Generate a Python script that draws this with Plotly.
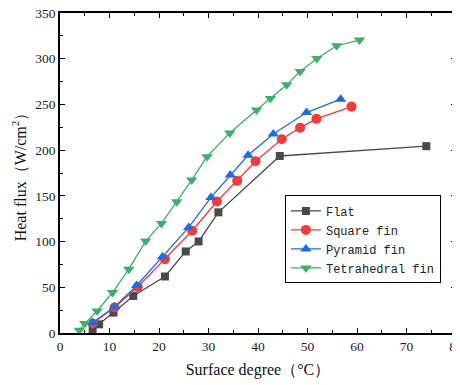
import plotly.graph_objects as go

flat_x = [6.6, 7.9, 10.8, 14.8, 21.2, 25.4, 28.0, 32.0, 44.4, 74.0]
flat_y = [4, 9.5, 22.3, 40.5, 61.8, 89.2, 100.1, 132.0, 193.6, 204.3]

square_x = [6.6, 11.0, 15.7, 21.2, 26.7, 31.7, 35.8, 39.5, 44.8, 48.5, 51.8, 58.9]
square_y = [10.3, 27.8, 50.4, 80.8, 111.8, 143.8, 166.4, 187.8, 211.9, 224.6, 234.2, 247.6]

pyramid_x = [6.6, 11.0, 15.5, 20.7, 26.0, 30.5, 34.4, 38.0, 43.1, 49.8, 56.7]
pyramid_y = [11.4, 28.5, 51.9, 83.3, 115.5, 148.3, 172.8, 194.4, 217.7, 241.1, 255.7]

tetra_x = [3.9, 5.0, 7.5, 10.6, 13.9, 17.3, 20.5, 23.6, 26.6, 29.7, 34.3, 39.7, 42.5, 45.8, 48.5, 51.9, 55.9, 60.5]
tetra_y = [3.0, 10.3, 24.1, 44.3, 69.8, 100.5, 119.9, 143.5, 167.3, 192.9, 218.8, 244.0, 256.4, 271.4, 286.0, 300.2, 314.2, 320.4]

names = ["Flat", "Square fin", "Pyramid fin", "Tetrahedral fin"]
colors = ["#4a4a4a", "#f03c3c", "#1f6be0", "#3fae6a"]
symbols = ["square", "circle", "triangle-up", "triangle-down"]
sizes = [8, 10, 10, 10]

fig = go.Figure()
for xs, ys, n, c, s, sz in zip([flat_x, square_x, pyramid_x, tetra_x],
                               [flat_y, square_y, pyramid_y, tetra_y],
                               names, colors, symbols, sizes):
    fig.add_trace(go.Scatter(x=xs, y=ys, name=n, mode="lines+markers",
                             line=dict(color=c, width=1.3),
                             marker=dict(symbol=s, size=sz, color=c)))

serif = "Liberation Serif"
axis_common = dict(
    showline=True, linecolor="black", linewidth=1.5, mirror="ticks",
    ticks="inside", ticklen=5, tickwidth=1.3, tickcolor="black",
    showgrid=False, zeroline=False, automargin=False,
    ticklabeloverflow="allow",
    tickfont=dict(family=serif, size=13.5, color="#222"),
)
fig.update_xaxes(range=[0, 80], dtick=10,
                 minor=dict(ticks="inside", ticklen=3, tickwidth=1, dtick=5, tickcolor="black"),
                 title=dict(text="Surface degree（°C）", font=dict(family=serif, size=16, color="#111"), standoff=11),
                 **axis_common)
fig.update_yaxes(range=[0, 350], dtick=50,
                 minor=dict(ticks="inside", ticklen=3, tickwidth=1, dtick=25, tickcolor="black"),
                 title=dict(text="Heat flux（W/cm<sup>2</sup>）", font=dict(family=serif, size=16, color="#111"), standoff=5),
                 **axis_common)

fig.update_layout(
    width=460, height=385,
    margin=dict(l=52, r=12, t=5, b=60),
    font=dict(family=serif),
    plot_bgcolor="white", paper_bgcolor="white",
    legend=dict(x=0.568, y=0.43, xanchor="left", yanchor="top",
                bgcolor="white", bordercolor="black", borderwidth=1,
                font=dict(family="Liberation Mono", size=12, color="#222"),
                tracegroupgap=0, itemwidth=30),
    showlegend=True,
)

fig.write_html("out.html")
